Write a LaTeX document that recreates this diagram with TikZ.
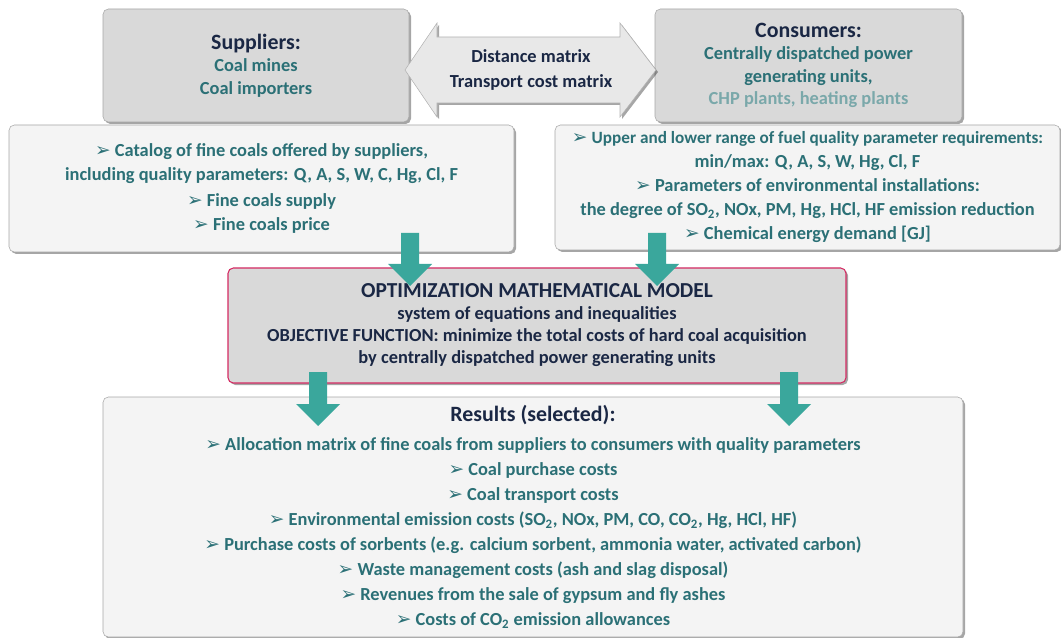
\documentclass[tikz,border=0pt]{standalone}
\usepackage{fontspec}
\setmainfont{Carlito}
\newfontfamily\symfont{DejaVu Sans}
\usetikzlibrary{shadows}
\definecolor{navy}{HTML}{1A2744}
\definecolor{tealtext}{HTML}{2B7076}
\definecolor{lightteal}{HTML}{7AA8AA}
\definecolor{tealarrow}{HTML}{3AA79C}
\definecolor{crimson}{HTML}{D42A62}
\definecolor{boxgray}{HTML}{D9D9D9}
\definecolor{panel}{HTML}{F4F4F4}
\tikzstyle{shade} = [drop shadow={shadow xshift=1.5pt, shadow yshift=-1.5pt, fill=black, opacity=.35}]
\tikzstyle{headbox} = [rectangle, rounded corners=4pt, draw=gray!70, fill=boxgray, shade, align=center, text=tealtext, font=\bfseries\fontsize{13.8}{16.9}\selectfont]
\tikzstyle{panelbox} = [rectangle, rounded corners=4pt, draw=gray!70, fill=panel, shade, align=center, text=tealtext, font=\bfseries\fontsize{13.8}{18}\selectfont]
\newcommand{\bul}{{\symfont\fontsize{14}{12}\selectfont ➢}\ }
\newcommand{\fatarrow}[3]{\fill[tealarrow] (#1-9,#2) -- (#1+9,#2) -- (#1+9,#3-22) -- (#1+22,#3-22) -- (#1,#3) -- (#1-22,#3-22) -- (#1-9,#3-22) -- cycle;}
\newcommand{\hd}[1]{\textcolor{navy}{#1}}

\begin{document}
\begin{tikzpicture}[x=0.75pt, y=-0.75pt]
\useasboundingbox (0,0) rectangle (1061,638);
% top row
\node [headbox, minimum width=229.5pt, minimum height=84.75pt] (sup) at (256,65.5)
  {\hd{\fontsize{16.4}{16.9}\selectfont Suppliers:}\\ Coal mines\\ Coal importers};
\node [headbox, minimum width=230.25pt, minimum height=84.75pt] (con) at (808.5,65.5)
  {\hd{\fontsize{16.4}{16.9}\selectfont Consumers:}\\ Centrally dispatched power\\ generating units,\\ \textcolor{lightteal}{CHP plants, heating plants}};
\filldraw [fill=panel!90!gray, draw=gray!60, shade] (405,70) -- (437,23) -- (437,37) -- (620,37) -- (620,23)
  -- (656,70) -- (620,117) -- (620,103) -- (437,103) -- (437,117) -- cycle;
\node [align=center, text=navy, font=\bfseries\fontsize{13.8}{18.75}\selectfont] (mat) at (531,69.5)
  {Distance matrix\\ Transport cost matrix};
% inputs
\node [panelbox, minimum width=378.75pt, minimum height=95.25pt] (supin) at (261.5,188.5)
  {\bul Catalog of fine coals offered by suppliers,\\ including quality parameters: Q, A, S, W, C, Hg, Cl, F\\[1pt]
   \bul Fine coals supply\\ \bul Fine coals price};
\node [panelbox, minimum width=378.75pt, minimum height=93.75pt, font=\bfseries\fontsize{13.8}{17.5}\selectfont] (conin) at (807.5,187.5)
  {\bul {\fontsize{12.9}{17.5}\selectfont Upper and lower range of fuel quality parameter requirements:}\\ min/max: Q, A, S, W, Hg, Cl, F\\[1pt]
   \bul Parameters of environmental installations:\\ the degree of SO\textsubscript{2}, NOx, PM, Hg, HCl, HF emission reduction\\[1pt]
   \bul Chemical energy demand [GJ]};
% model
\node [rectangle, rounded corners=4pt, draw=crimson, thick, fill=boxgray, shade, align=center, text=navy,
  font=\bfseries\fontsize{13.8}{16.5}\selectfont, minimum width=463.5pt, minimum height=86.25pt] (model) at (537,325.5)
  {{\fontsize{16}{16.5}\selectfont OPTIMIZATION MATHEMATICAL MODEL}\\ system of equations and inequalities\\
   OBJECTIVE FUNCTION: minimize the total costs of hard coal acquisition\\ by centrally dispatched power generating units};
% results
\node [panelbox, minimum width=645pt, minimum height=180pt, font=\bfseries\fontsize{13.8}{18.75}\selectfont] (res) at (533,517)
  {\hd{\fontsize{16.4}{18.75}\selectfont Results (selected):}\\[3pt]
   \bul Allocation matrix of fine coals from suppliers to consumers with quality parameters\\
   \bul Coal purchase costs\\ \bul Coal transport costs\\
   \bul Environmental emission costs (SO\textsubscript{2}, NOx, PM, CO, CO\textsubscript{2}, Hg, HCl, HF)\\
   \bul Purchase costs of sorbents (e.g. calcium sorbent, ammonia water, activated carbon)\\
   \bul Waste management costs (ash and slag disposal)\\
   \bul Revenues from the sale of gypsum and fly ashes\\
   \bul Costs of CO\textsubscript{2} emission allowances};
% flow arrows
\fatarrow{410}{233}{286}
\fatarrow{657}{233}{286}
\fatarrow{318}{372}{426}
\fatarrow{789}{372}{426}
\end{tikzpicture}
\end{document}
